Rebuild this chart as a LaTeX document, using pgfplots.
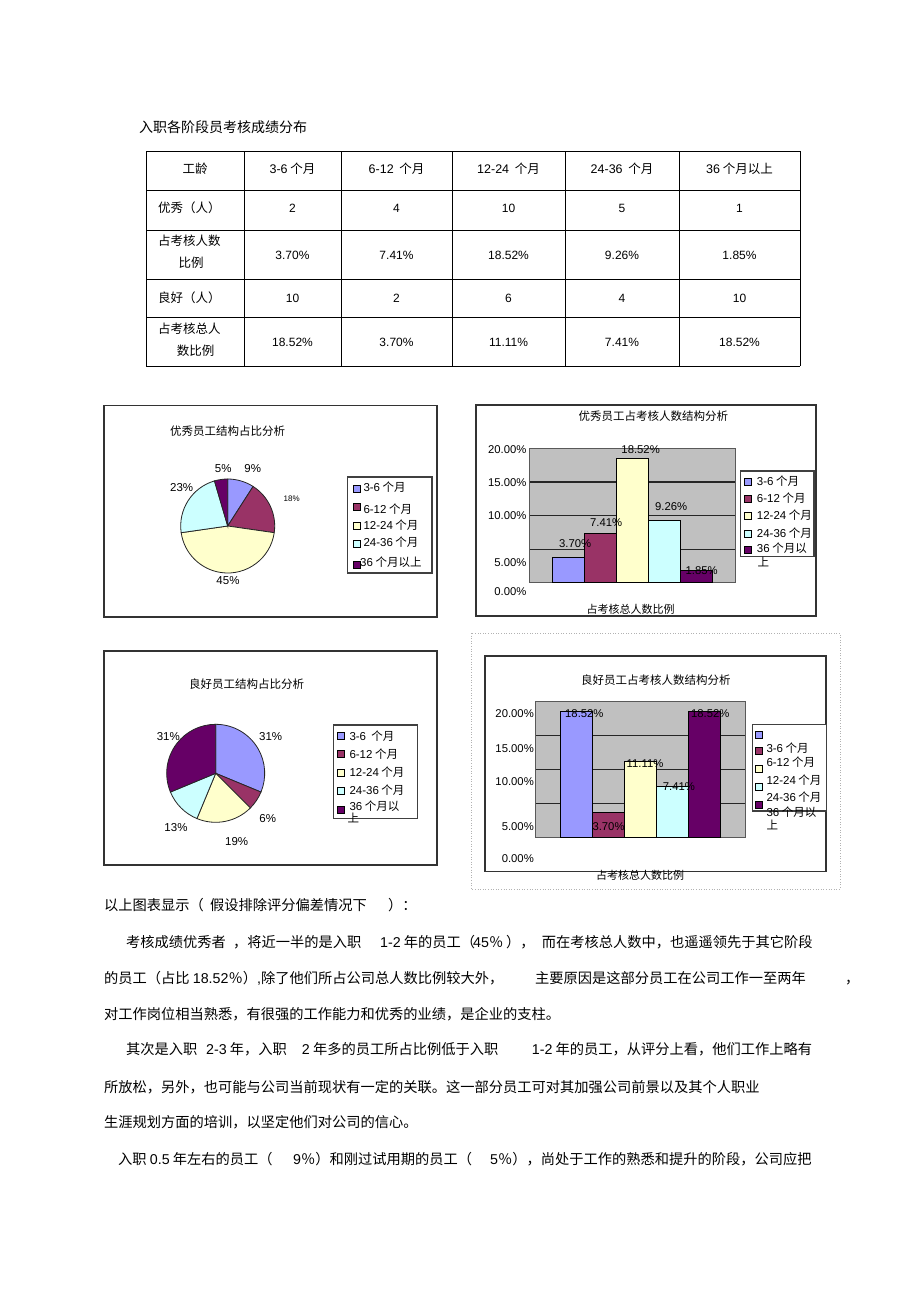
\documentclass[border=0pt]{standalone}
\usepackage{fontspec}
\setmainfont{Noto Sans CJK SC}
\newfontfamily\lt{Liberation Sans}
\usepackage{pgfplots}
\usepackage{pgfplotstable}
\pgfplotsset{compat=1.18}
\definecolor{c1}{HTML}{9999FF}
\definecolor{c2}{HTML}{993366}
\definecolor{c3}{HTML}{FFFFCC}
\definecolor{c4}{HTML}{CCFFFF}
\definecolor{c5}{HTML}{660066}
\definecolor{pg}{HTML}{C0C0C0}
\newcommand\fsz[1]{\fontsize{#1}{#1}\selectfont}
\newcommand\n[1]{{\lt #1}}

% pie data (number of employees)
\pgfplotstableread{
v
2
4
10
5
1
}\tabYX
\pgfplotstableread{
v
10
2
6
4
10
}\tabLH

\newcommand\mypie[3]{%
  \def\cum{0}%
  \pgfplotsforeachungrouped \i in {0,1,2,3,4}{%
    \pgfplotstablegetelem{\i}{v}\of{#1}%
    \let\vv\pgfplotsretval
    \pgfmathsetmacro\sa{90-\cum*360/#2}%
    \pgfmathsetmacro\ea{90-(\cum+\vv)*360/#2}%
    \pgfmathtruncatemacro\kk{\i+1}%
    \edef\tmp{\noexpand\filldraw[fill=c\kk,draw=black!85,line width=0.8pt] (axis cs:0,0) -- ++(\sa:#3pt) arc[start angle=\sa,end angle=\ea,radius=#3pt] -- cycle;}%
    \tmp
    \pgfmathsetmacro\cum{\cum+\vv}%
  }}

\tikzset{t/.style={inner sep=0pt, text height=0.88em, text depth=0.12em},
  body/.style={t, anchor=west, font=\fsz{14.25}},
  tb/.style={t, font=\fsz{12.5}},
  tv/.style={t, font=\lt\fsz{12}},
  lg/.style={t, anchor=west, font=\fsz{11.5}},
  tk/.style={t, anchor=east, font=\lt\fsz{11.3}},
  pl/.style={t, font=\lt\fsz{11.5}},
  ttl/.style={t, font=\fsz{11.5}}}
\newcommand\legsq[3]{\filldraw[fill=#3, draw=black, line width=0.6pt] (#1-3.5,#2-3.5) rectangle (#1+3.5,#2+3.5);}

\pgfplotsset{barax/.style={scale only axis, anchor=north west,
    xmin=-1, xmax=1, ymin=0, ymax=20, xtick=\empty, ytick={5,10,15}, yticklabels={},
    ymajorgrids, major grid style={black!85, line width=1.2pt}, tick style={draw=none},
    axis background/.style={fill=pg}, axis line style={draw=gray!70!black, line width=0.8pt},
    ybar=0pt, bar width=32pt, clip=false,
    /pgf/number format/assume math mode=true,
    nodes near coords={\pgfmathprintnumber[fixed,fixed zerofill,precision=2]{\pgfplotspointmeta}\%},
    every node near coord/.append style={font=\lt\fsz{11.3}, anchor=center, inner sep=0pt}},
  bstyle/.style n args={3}{fill=#1, draw=black, line width=0.8pt,
    every node near coord/.append style={xshift=#2pt, yshift=#3pt}}}

\begin{document}
\begin{tikzpicture}[x=1pt,y=-1pt]
\fill[white] (0,0) rectangle (920,1303);
\useasboundingbox (0,0) rectangle (920,1303);

% ---------- title ----------
\node[t, anchor=west, font=\fsz{14}] at (139,128.3) {入职各阶段员考核成绩分布};

% ---------- table ----------
\foreach \x in {146,244,341,452,565,679,800} \draw[line width=1pt] (\x,151) -- (\x,366);
\foreach \y in {151,190,230,279,317,366} \draw[line width=1pt] (146,\y) -- (800,\y);
\node[tb] at (195,170) {工龄};
\node[tb] at (292.5,170) {\n{3-6} 个月};
\node[tb] at (396.5,170) {\n{6-12} \ 个月};
\node[tb] at (508.5,170) {\n{12-24} \ 个月};
\node[tb] at (622,170) {\n{24-36} \ 个月};
\node[tb] at (739.5,170) {\n{36} 个月以上};
\node[tb, anchor=west] at (158,209) {优秀（人）};
\node[tb, anchor=west] at (158,241.7) {占考核人数};
\node[tb] at (191,264) {比例};
\node[tb, anchor=west] at (158,298.3) {良好（人）};
\node[tb, anchor=west] at (158,329.3) {占考核总人};
\node[tb] at (195.7,351.7) {数比例};
\foreach \x/\a/\b/\c/\d in {292.5/2/3.70\%/10/18.52\%, 396.5/4/7.41\%/2/3.70\%, 508.5/10/18.52\%/6/11.11\%, 622/5/9.26\%/4/7.41\%, 739.5/1/1.85\%/10/18.52\%}{
  \node[tv] at (\x,209) {\a};
  \node[tv] at (\x,255.7) {\b};
  \node[tv] at (\x,298.3) {\c};
  \node[tv] at (\x,342.3) {\d};
}

% ---------- chart 1: pie ----------
\draw[line width=1.2pt, draw=black!80] (104,405.5) rectangle (437,617);
\node[ttl] at (227.5,432) {优秀员工结构占比分析};
\begin{axis}[at={(227.7pt,-526pt)}, anchor=center, scale only axis, width=94pt, height=94pt,
  xmin=-1, xmax=1, ymin=-1, ymax=1, hide axis, clip=false]
\mypie{\tabYX}{22}{47}
\end{axis}
\node[pl] at (252.7,468.3) {9\%};
\node[pl] at (223.3,468.3) {5\%};
\node[t, font=\lt\fsz{8}] at (291.7,498) {18\%};
\node[pl] at (181.7,488) {23\%};
\node[pl] at (228,581) {45\%};
\draw[line width=1.2pt, draw=black!75, fill=white] (347.7,477) rectangle (432,573);
\legsq{357}{488.3}{c1}\legsq{357}{506.7}{c2}\legsq{357}{525.7}{c3}\legsq{357}{544}{c4}\legsq{357}{564.3}{c5}
\node[lg] at (363.3,488) {\n{3-6} 个月};
\node[lg] at (363.3,509.3) {\n{6-12} 个月};
\node[lg] at (363.3,525.5) {\n{12-24} 个月};
\node[lg] at (363.3,543) {\n{24-36} 个月};
\node[lg] at (360,563) {\n{36} 个月以上};

% ---------- chart 2: bars ----------
\draw[line width=1.2pt, draw=black!80] (476,405) rectangle (816,616);
\node[ttl] at (653.3,417) {优秀员工占考核人数结构分析};
\begin{axis}[barax, at={(529.3pt,-448.3pt)}, width=205.7pt, height=134.4pt]
\addplot[bstyle={c1}{7}{14.3}] coordinates {(0,3.70)};
\addplot[bstyle={c2}{6}{10.3}] coordinates {(0,7.41)};
\addplot[bstyle={c3}{8.5}{8.6}] coordinates {(0,18.52)};
\addplot[bstyle={c4}{7}{14}] coordinates {(0,9.26)};
\addplot[bstyle={c5}{5.5}{0}] coordinates {(0,1.85)};
\end{axis}
\node[tk] at (526.7,450) {20.00\%};
\node[tk] at (526.7,482.7) {15.00\%};
\node[tk] at (526.7,516) {10.00\%};
\node[tk] at (526.7,562.7) {5.00\%};
\node[tk] at (526.7,591.7) {0.00\%};
\node[t, font=\fsz{11}] at (630.7,609.5) {占考核总人数比例};
\draw[line width=1.2pt, draw=black!75, fill=white] (740.7,471) rectangle (814,556.7);
\legsq{747.7}{481.7}{c1}\legsq{747.7}{498.3}{c2}\legsq{747.7}{516}{c3}\legsq{747.7}{533.3}{c4}\legsq{747.7}{550}{c5}
\node[lg] at (756.7,481.7) {\n{3-6} 个月};
\node[lg] at (756.7,498.3) {\n{6-12} 个月};
\node[lg] at (756.7,516) {\n{12-24} 个月};
\node[lg] at (756.7,533.3) {\n{24-36} 个月};
\node[lg] at (756.7,548.3) {\n{36} 个月以};
\node[lg] at (757.5,562.3) {上};

% ---------- chart 3: pie ----------
\draw[line width=1.2pt, draw=black!80] (104,651) rectangle (437,865);
\node[ttl] at (246.7,684.3) {良好员工结构占比分析};
\begin{axis}[at={(215.7pt,-773.3pt)}, anchor=center, scale only axis, width=98pt, height=98pt,
  xmin=-1, xmax=1, ymin=-1, ymax=1, hide axis, clip=false]
\mypie{\tabLH}{32}{49}
\end{axis}
\node[pl] at (270.7,736.7) {31\%};
\node[pl] at (267.7,819) {6\%};
\node[pl] at (236.7,841.7) {19\%};
\node[pl] at (176,827.7) {13\%};
\node[pl] at (168.3,736.7) {31\%};
\draw[line width=1.2pt, draw=black!75, fill=white] (333.3,725) rectangle (417.7,818.3);
\legsq{340.7}{735.7}{c1}\legsq{340.7}{753.3}{c2}\legsq{340.7}{772.3}{c3}\legsq{340.7}{790.7}{c4}\legsq{340.7}{809.3}{c5}
\node[lg] at (349.3,736.7) {\n{3-6} \ 个月};
\node[lg] at (349.3,754.3) {\n{6-12} 个月};
\node[lg] at (349.3,772.7) {\n{12-24} 个月};
\node[lg] at (349.3,791) {\n{24-36} 个月};
\node[lg] at (349.3,806.7) {\n{36} 个月以};
\node[lg] at (347.5,818.3) {上};

% ---------- chart 4: bars ----------
\draw[line width=0.6pt, draw=gray!60, dotted] (471,633) rectangle (840,889);
\draw[line width=1.2pt, draw=black!80] (485,656) rectangle (826,871.5);
\node[ttl] at (655.9,681) {良好员工占考核人数结构分析};
\begin{axis}[barax, at={(535.7pt,-701.6pt)}, width=209.7pt, height=135.4pt]
\addplot[bstyle={c1}{7.8}{-1.7}] coordinates {(0,18.52)};
\addplot[bstyle={c2}{0}{-14.5}] coordinates {(0,3.70)};
\addplot[bstyle={c3}{4.5}{-2}] coordinates {(0,11.11)};
\addplot[bstyle={c4}{6.3}{0}] coordinates {(0,7.41)};
\addplot[bstyle={c5}{5.7}{-1.7}] coordinates {(0,18.52)};
\end{axis}
\node[tk] at (534,713.4) {20.00\%};
\node[tk] at (534,748.4) {15.00\%};
\node[tk] at (534,781.4) {10.00\%};
\node[tk] at (534,826.9) {5.00\%};
\node[tk] at (534,858.9) {0.00\%};
\node[t, font=\fsz{11}] at (640,875.7) {占考核总人数比例};
\draw[line width=1.2pt, draw=black!75, fill=white] (752.2,724.8) rectangle (826.2,811);
\legsq{758.9}{735}{c1}\legsq{758.9}{750.4}{c2}\legsq{758.9}{768.6}{c3}\legsq{758.9}{786.5}{c4}\legsq{758.9}{805}{c5}
\node[lg] at (766.3,748.4) {\n{3-6} 个月};
\node[lg] at (766.3,762.9) {\n{6-12} 个月};
\node[lg] at (766.3,780.7) {\n{12-24} 个月};
\node[lg] at (766.3,797.6) {\n{24-36} 个月};
\node[lg] at (766.3,812.4) {\n{36} 个月以};
\node[lg] at (766.3,825.9) {上};

% ---------- body text ----------
\node[body] at (104,906.7) {以上图表显示（};
\node[body] at (210,906.7) {假设排除评分偏差情况下};
\node[body] at (388,906.7) {）：};

\node[body] at (126,943.3) {考核成绩优秀者};
\node[body] at (233,943.3) {，将近一半的是入职};
\node[body] at (380,943.3) {\n{1-2} 年的员工（};
\node[body] at (473,943.3) {\n{45}％};
\node[body] at (506,943.3) {），};
\node[body] at (541.7,943.3) {而在考核总人数中，也遥遥领先于其它阶段};

\node[body] at (104,979.3) {的员工（占比 \n{18.52}％）\n{,}除了他们所占公司总人数比例较大外，};
\node[body] at (535,979.3) {主要原因是这部分员工在公司工作一至两年};
\node[body] at (845,979.3) {，};

\node[body] at (104,1016) {对工作岗位相当熟悉，有很强的工作能力和优秀的业绩，是企业的支柱。};

\node[body] at (126,1051) {其次是入职};
\node[body] at (206,1051) {\n{2-3} 年，入职};
\node[body] at (301.7,1051) {\n{2} 年多的员工所占比例低于入职};
\node[body] at (531.7,1051) {\n{1-2} 年的员工，从评分上看，他们工作上略有};

\node[body] at (104,1088.3) {所放松，另外，也可能与公司当前现状有一定的关联。这一部分员工可对其加强公司前景以及其个人职业};
\node[body] at (104,1123.3) {生涯规划方面的培训，以坚定他们对公司的信心。};

\node[body] at (118,1161) {入职 \n{0.5} 年左右的员工（};
\node[body] at (293,1161) {\n{9}％）和刚过试用期的员工（};
\node[body] at (490,1161) {\n{5}％），尚处于工作的熟悉和提升的阶段，公司应把};
\end{tikzpicture}
\end{document}
